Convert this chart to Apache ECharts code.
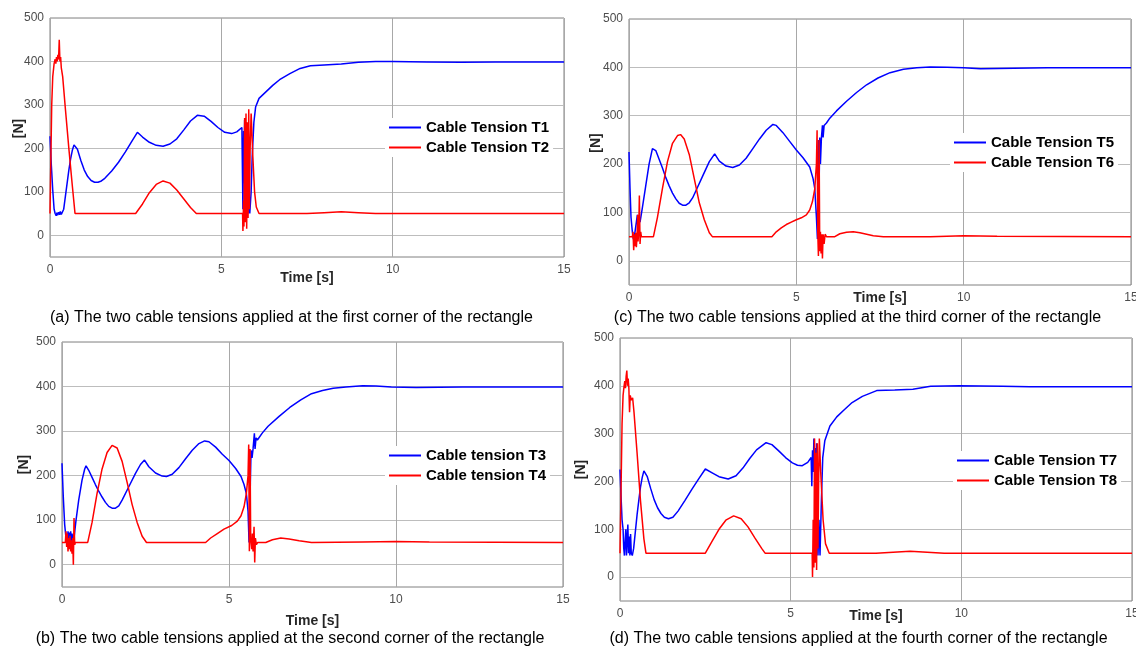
<!DOCTYPE html>
<html>
<head>
<meta charset="utf-8">
<script src="https://cdn.jsdelivr.net/npm/echarts@6/dist/echarts.min.js"></script>
<style>
html,body{margin:0;padding:0;background:#fff;}
#chart{width:1136px;height:648px;}
</style>
</head>
<body>
<div id="chart"></div>
<script>
// ---------- data (time [s], tension [N]) ----------
const xTicks = [0, 5, 10, 15];
const yTicks = [0, 100, 200, 300, 400, 500];

const T1 = [[0,228],[0.04,160],[0.08,104],[0.1,100],[0.12,60],[0.15,50],[0.18,45],[0.2,52],[0.22,46],[0.25,53],[0.28,47],[0.3,55],[0.33,48],[0.36,52],[0.4,60],[0.45,90],[0.5,120],[0.55,150],[0.6,175],[0.65,195],[0.7,208],[0.75,212],[0.8,198],[0.9,172],[1.0,150],[1.1,135],[1.2,126],[1.3,122],[1.4,122],[1.5,125],[1.6,131],[1.8,148],[2.0,168],[2.2,192],[2.4,218],[2.55,237],[2.7,226],[2.9,214],[3.1,207],[3.3,205],[3.5,210],[3.7,222],[3.9,242],[4.1,263],[4.3,276],[4.5,274],[4.7,262],[4.9,248],[5.1,237],[5.3,234],[5.45,238],[5.6,248],[5.62,250],[5.63,60],[5.65,240],[5.66,120],[5.68,265],[5.7,150],[5.72,260],[5.75,200],[5.78,50],[5.8,120],[5.83,50],[5.87,100],[5.9,180],[5.95,260],[6.0,295],[6.1,315],[6.3,330],[6.5,345],[6.7,358],[7.0,372],[7.3,384],[7.6,390],[8.0,392],[8.5,394],[9.0,398],[9.5,400],[10,400],[11,399],[12,398],[13,399],[14,399],[15,399]];
const T2 = [[0,50],[0.02,150],[0.05,300],[0.08,365],[0.12,395],[0.15,405],[0.17,395],[0.19,410],[0.21,400],[0.23,415],[0.25,405],[0.27,450],[0.29,400],[0.31,410],[0.33,385],[0.37,365],[0.45,290],[0.55,200],[0.65,115],[0.73,50],[2.5,50],[2.7,72],[2.9,98],[3.1,117],[3.3,125],[3.5,120],[3.7,104],[3.9,84],[4.1,64],[4.27,50],[5.62,50],[5.63,10],[5.65,80],[5.66,20],[5.68,270],[5.7,30],[5.72,280],[5.74,15],[5.76,260],[5.78,40],[5.8,290],[5.82,60],[5.84,200],[5.87,280],[5.92,180],[5.97,100],[6.02,65],[6.1,50],[7.5,50],[8.0,52],[8.5,54],[9.0,52],[9.5,50],[15,50]];

const T3 = [[0,228],[0.04,150],[0.08,90],[0.12,60],[0.16,52],[0.18,75],[0.2,50],[0.22,72],[0.24,55],[0.26,75],[0.28,50],[0.3,70],[0.33,55],[0.36,60],[0.42,100],[0.5,145],[0.6,190],[0.68,215],[0.72,222],[0.8,212],[0.9,196],[1.0,180],[1.1,165],[1.2,152],[1.3,140],[1.4,131],[1.5,127],[1.6,127],[1.7,132],[1.8,145],[2.0,175],[2.2,205],[2.35,225],[2.47,235],[2.6,220],[2.8,206],[3.0,199],[3.13,198],[3.3,203],[3.5,218],[3.7,238],[3.9,257],[4.1,272],[4.27,278],[4.4,276],[4.6,264],[4.8,248],[5.0,234],[5.2,216],[5.36,198],[5.45,180],[5.52,160],[5.57,120],[5.6,50],[5.63,150],[5.66,257],[5.69,240],[5.72,260],[5.76,295],[5.78,260],[5.81,285],[5.85,280],[6.0,296],[6.17,311],[6.5,333],[6.82,353],[7.15,370],[7.47,384],[7.8,391],[8.12,396],[8.5,399],[9.0,402],[9.4,401],[9.86,399],[10.6,398],[12,399],[15,399]];
const T4 = [[0,50],[0.1,50],[0.12,75],[0.14,40],[0.16,70],[0.18,30],[0.2,60],[0.22,35],[0.24,65],[0.26,30],[0.28,55],[0.3,25],[0.32,60],[0.34,0],[0.36,105],[0.38,45],[0.4,50],[0.77,50],[0.9,95],[1.05,160],[1.2,215],[1.35,252],[1.5,268],[1.55,269],[1.65,262],[1.8,232],[1.95,185],[2.1,135],[2.25,95],[2.4,64],[2.53,50],[4.3,50],[4.45,60],[4.65,70],[4.85,80],[5.08,88],[5.25,98],[5.36,110],[5.45,130],[5.52,160],[5.57,200],[5.59,270],[5.61,30],[5.63,260],[5.65,55],[5.68,35],[5.7,70],[5.72,30],[5.75,85],[5.77,5],[5.79,60],[5.82,45],[5.86,50],[6.1,50],[6.3,56],[6.55,60],[6.8,58],[7.1,54],[7.47,50],[9,51],[10,52],[11,51],[15,50]];

const T5 = [[0,225],[0.03,150],[0.06,90],[0.1,60],[0.13,45],[0.16,50],[0.2,48],[0.25,95],[0.27,55],[0.3,85],[0.33,80],[0.4,110],[0.5,155],[0.6,200],[0.7,232],[0.73,236],[0.8,228],[0.9,210],[1.0,192],[1.1,172],[1.2,155],[1.3,140],[1.4,128],[1.5,119],[1.6,115],[1.7,115],[1.8,120],[1.9,130],[2.0,145],[2.2,175],[2.4,205],[2.56,221],[2.7,206],[2.9,196],[3.1,193],[3.3,198],[3.5,212],[3.7,232],[3.9,252],[4.1,270],[4.3,282],[4.4,280],[4.6,265],[4.8,247],[5.0,229],[5.2,213],[5.4,194],[5.5,170],[5.55,150],[5.6,90],[5.63,45],[5.66,250],[5.68,150],[5.7,255],[5.72,200],[5.75,255],[5.78,280],[5.8,255],[5.83,280],[5.9,285],[6.0,295],[6.2,310],[6.5,330],[6.8,348],[7.1,364],[7.44,378],[7.8,389],[8.2,396],[8.6,399],[9.0,401],[9.5,400],[10,399],[10.5,397],[11.5,398],[12.5,399],[15,399]];
const T6 = [[0,50],[0.1,50],[0.12,60],[0.14,22],[0.16,55],[0.18,30],[0.2,58],[0.22,28],[0.24,50],[0.26,95],[0.27,40],[0.29,60],[0.31,135],[0.33,35],[0.35,60],[0.37,50],[0.73,50],[0.85,90],[1.0,150],[1.15,205],[1.3,243],[1.45,259],[1.54,261],[1.65,252],[1.8,220],[1.95,170],[2.1,120],[2.25,85],[2.4,58],[2.49,50],[4.27,50],[4.4,60],[4.55,68],[4.7,75],[4.85,80],[5.0,85],[5.15,89],[5.3,95],[5.4,105],[5.48,122],[5.55,148],[5.6,200],[5.62,270],[5.64,60],[5.66,10],[5.68,250],[5.7,20],[5.72,60],[5.74,15],[5.76,55],[5.78,5],[5.8,55],[5.83,35],[5.86,55],[5.9,50],[6.15,50],[6.3,56],[6.5,59],[6.7,60],[6.9,58],[7.1,55],[7.3,52],[7.6,50],[9,50],[10,52],[11,51],[15,50]];

const T7 = [[0,225],[0.03,170],[0.06,120],[0.09,100],[0.11,60],[0.13,45],[0.15,75],[0.17,100],[0.19,45],[0.21,80],[0.23,110],[0.25,50],[0.27,85],[0.29,45],[0.31,90],[0.33,50],[0.36,45],[0.4,60],[0.45,95],[0.5,130],[0.55,160],[0.6,188],[0.65,208],[0.7,222],[0.73,226],[0.8,210],[0.9,185],[1.0,162],[1.1,145],[1.2,133],[1.3,125],[1.42,122],[1.55,125],[1.7,138],[1.9,160],[2.1,183],[2.3,205],[2.5,226],[2.7,218],[2.9,210],[3.17,205],[3.4,212],[3.6,228],[3.8,248],[4.0,266],[4.28,281],[4.45,277],[4.65,264],[4.85,250],[5.05,239],[5.2,234],[5.34,233],[5.5,240],[5.6,250],[5.62,190],[5.64,265],[5.66,220],[5.68,290],[5.7,240],[5.72,270],[5.74,200],[5.76,280],[5.78,150],[5.8,45],[5.83,120],[5.86,45],[5.9,160],[5.94,250],[6.0,285],[6.15,316],[6.35,335],[6.57,350],[6.8,365],[7.1,378],[7.52,390],[8.05,391],[8.58,393],[9.1,399],[9.95,400],[11.2,399],[12,398],[13,398],[14,398],[15,398]];
const T8 = [[0,50],[0.03,180],[0.06,320],[0.09,380],[0.12,400],[0.14,410],[0.16,395],[0.18,420],[0.2,432],[0.22,400],[0.24,415],[0.26,395],[0.28,345],[0.3,380],[0.33,370],[0.37,375],[0.41,345],[0.5,260],[0.6,160],[0.7,80],[0.76,50],[2.5,50],[2.7,75],[2.9,100],[3.1,119],[3.33,128],[3.55,122],[3.75,105],[3.95,82],[4.15,60],[4.25,50],[5.63,50],[5.64,0],[5.66,120],[5.68,20],[5.7,290],[5.72,30],[5.74,260],[5.76,15],[5.78,280],[5.8,60],[5.82,200],[5.84,290],[5.88,220],[5.95,120],[6.02,70],[6.13,50],[7.5,50],[8.0,52],[8.5,54],[9.0,52],[9.5,50],[15,50]];

const seriesNames = ['Cable Tension T1','Cable Tension T2','Cable tension T3','Cable tension T4','Cable Tension T5','Cable Tension T6','Cable Tension T7','Cable Tension T8'];
const captions = [
  '(a) The two cable tensions applied at the first corner of the rectangle',
  '(b) The two cable tensions applied at the second corner of the rectangle',
  '(c) The two cable tensions applied at the third corner of the rectangle',
  '(d) The two cable tensions applied at the fourth corner of the rectangle'
];
const xName = 'Time [s]';
const yName = '[N]';

// ---------- layout ----------
const FONT = '"Liberation Sans", Arial, Helvetica, sans-serif';
// panels in order a, b, c, d
const panels = [
  {grid:{left:50, top:18, width:514, height:239}, xGap:14, yGap:24, yPad:[0,0,0,18], legend:{left:385, top:118}, cap:{x:291.5, y:318}, data:[T1,T2], names:[seriesNames[0],seriesNames[1]]},
  {grid:{left:62, top:342, width:501, height:245}, xGap:27, yGap:31, yPad:0, legend:{left:385, top:446}, cap:{x:290, y:639}, data:[T3,T4], names:[seriesNames[2],seriesNames[3]]},
  {grid:{left:629, top:19, width:502, height:266}, xGap:6, yGap:26, yPad:[0,0,0,18], legend:{left:950, top:133}, cap:{x:857.5, y:318}, data:[T5,T6], names:[seriesNames[4],seriesNames[5]]},
  {grid:{left:620, top:338, width:512, height:263}, xGap:8, yGap:32, yPad:0, legend:{left:953, top:451}, cap:{x:858.5, y:639}, data:[T7,T8], names:[seriesNames[6],seriesNames[7]]}
];
const colors = ['#0000ff', '#ff0000'];

const grids = [], xAxes = [], yAxes = [], series = [], legends = [], graphics = [];
panels.forEach((p, i) => {
  grids.push(Object.assign({show:true, borderColor:'#808080', borderWidth:1, backgroundColor:'#ffffff', containLabel:false, outerBoundsMode:'none'}, p.grid));
  xAxes.push({
    type:'value', gridIndex:i, min:0, max:15, interval:5,
    name:xName, nameLocation:'middle', nameGap:p.xGap, nameMoveOverlap:false,
    nameTextStyle:{fontFamily:FONT, fontSize:14, fontWeight:'bold', color:'#262626', verticalAlign:'top'},
    axisLine:{show:false}, axisTick:{show:false},
    axisLabel:{color:'#4d4d4d', fontSize:12, fontFamily:FONT, margin:7, showMinLabel:true, showMaxLabel:true, hideOverlap:false},
    splitLine:{show:true, lineStyle:{color:'#a8a8a8', width:1}}
  });
  yAxes.push({
    type:'value', gridIndex:i, min:-50, max:500,
    name:yName, nameLocation:'middle', nameGap:p.yGap, nameRotate:90, nameMoveOverlap:false,
    nameTextStyle:{fontFamily:FONT, fontSize:14, fontWeight:'bold', color:'#262626', padding:p.yPad},
    axisLine:{show:false},
    axisTick:{show:false, customValues:yTicks},
    axisLabel:{color:'#4d4d4d', fontSize:12, fontFamily:FONT, margin:6, customValues:yTicks},
    splitLine:{show:true, lineStyle:{color:'#bdbdbd', width:1}}
  });
  p.data.forEach((d, k) => {
    series.push({
      type:'line', name:p.names[k], xAxisIndex:i, yAxisIndex:i, data:d,
      symbol:'none', showSymbol:false, smooth:false,
      lineStyle:{color:colors[k], width:1.5}, itemStyle:{color:colors[k]},
      animation:false, clip:true
    });
  });
  legends.push({
    data:p.names, left:p.legend.left, top:p.legend.top, orient:'vertical',
    icon:'rect', itemWidth:32, itemHeight:2,
    backgroundColor:'#ffffff', padding:[2,4,2,4], itemGap:5,
    selectedMode:false,
    textStyle:{fontFamily:FONT, fontSize:15, fontWeight:'bold', color:'#000', lineHeight:15}
  });
  graphics.push({
    type:'text', x:p.cap.x, y:p.cap.y, silent:true,
    style:{text:captions[i], fontFamily:FONT, fontSize:16, fill:'#000', align:'center', verticalAlign:'middle'}
  });
});

const chart = echarts.init(document.getElementById('chart'), null, {renderer:'canvas'});
chart.setOption({
  backgroundColor:'#ffffff',
  animation:false,
  grid:grids, xAxis:xAxes, yAxis:yAxes, series:series, legend:legends, graphic:graphics
});
</script>
</body>
</html>
